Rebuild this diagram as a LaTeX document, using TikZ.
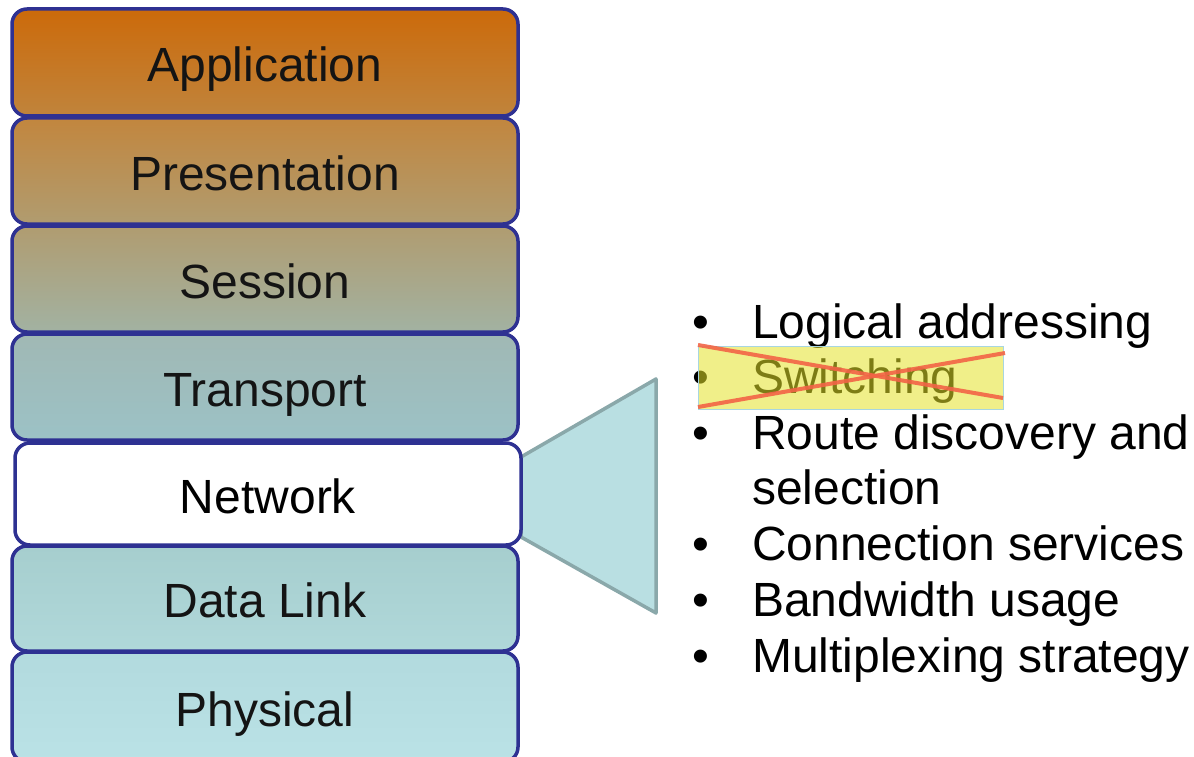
\documentclass[tikz,border=0pt]{standalone}
\usepackage{fontspec}
\setmainfont{Liberation Sans}
\definecolor{navy}{RGB}{46,49,146}
\definecolor{appTop}{RGB}{204,106,10}
\definecolor{appBot}{RGB}{192,132,60}
\definecolor{preTop}{RGB}{194,134,62}
\definecolor{preBot}{RGB}{176,156,112}
\definecolor{sesTop}{RGB}{176,156,112}
\definecolor{sesBot}{RGB}{162,178,162}
\definecolor{traTop}{RGB}{160,184,180}
\definecolor{traBot}{RGB}{156,194,198}
\definecolor{dllTop}{RGB}{166,206,206}
\definecolor{dllBot}{RGB}{176,216,218}
\definecolor{phyTop}{RGB}{178,218,222}
\definecolor{phyBot}{RGB}{186,226,230}
\definecolor{calloutFill}{RGB}{185,223,226}
\definecolor{calloutEdge}{RGB}{138,168,170}
\definecolor{markYellow}{RGB}{228,226,40}
\definecolor{markEdge}{RGB}{168,214,224}
\definecolor{strike}{RGB}{242,100,70}
\tikzset{
  layer/.style={draw=navy, line width=3.5pt, rounded corners=15pt,
    minimum width=506pt, text height=38pt, text depth=0pt,
    inner sep=0pt, text=black!92,
    font=\fontsize{48}{56}\selectfont},
  bulletmark/.style={anchor=base west, inner sep=0pt,
    font=\fontsize{48}{56}\selectfont},
  itemtext/.style={anchor=base west, inner sep=0pt,
    font=\fontsize{48}{56}\selectfont},
  strikeline/.style={draw=strike, line width=4pt, opacity=0.9}
}
\begin{document}
\begin{tikzpicture}[x=1pt, y=-1pt]
  \useasboundingbox (0,0) rectangle (1194,757);

  % callout wedge pointing out of the Network layer
  \filldraw[fill=calloutFill, draw=calloutEdge, line width=3.5pt, line join=round]
    (521,457) -- (656,379) -- (656,613) -- (521,537) -- cycle;

  % the seven OSI layers
  \node[layer, minimum height=107pt, top color=appTop, bottom color=appBot]
    (app) at (265,62.5) {Application};
  \node[layer, minimum height=106pt, top color=preTop, bottom color=preBot]
    (pre) at (265,171) {Presentation};
  \node[layer, minimum height=106pt, top color=sesTop, bottom color=sesBot]
    (ses) at (265,279) {Session};
  \node[layer, minimum height=106pt, top color=traTop, bottom color=traBot]
    (tra) at (265,387) {Transport};
  \node[layer, minimum height=105pt, top color=dllTop, bottom color=dllBot]
    (dll) at (265,598.5) {Data Link};
  \node[layer, minimum height=110pt, top color=phyTop, bottom color=phyBot]
    (phy) at (265,707) {Physical};
  \node[layer, minimum height=102pt, fill=white, text=black]
    (net) at (268,494) {Network};

  % functions of the network layer
  \node[bulletmark] (m1) at (692,338) {•};
  \node[itemtext]   (i1) at (752,338) {Logical addressing};
  \node[bulletmark] (m2) at (692,393) {•};
  \node[itemtext]   (i2) at (752,393) {Switching};
  \node[bulletmark] (m3) at (692,449) {•};
  \node[itemtext]   (i3) at (752,449) {Route discovery and};
  \node[itemtext]   (i3b) at (752,504) {selection};
  \node[bulletmark] (m4) at (692,560) {•};
  \node[itemtext]   (i4) at (752,560) {Connection services};
  \node[bulletmark] (m5) at (692,616) {•};
  \node[itemtext]   (i5) at (752,616) {Bandwidth usage};
  \node[bulletmark] (m6) at (692,672) {•};
  \node[itemtext]   (i6) at (752,672) {Multiplexing strategy};

  % highlighted and struck-out item
  \fill[markYellow, fill opacity=0.55] (698,346) rectangle (1003,409);
  \draw[markEdge, line width=1pt] (698,346) rectangle (1003,409);
  \draw[strikeline] (698,345) -- (1003,398);
  \draw[strikeline] (698,407) -- (1005,353);
\end{tikzpicture}
\end{document}
